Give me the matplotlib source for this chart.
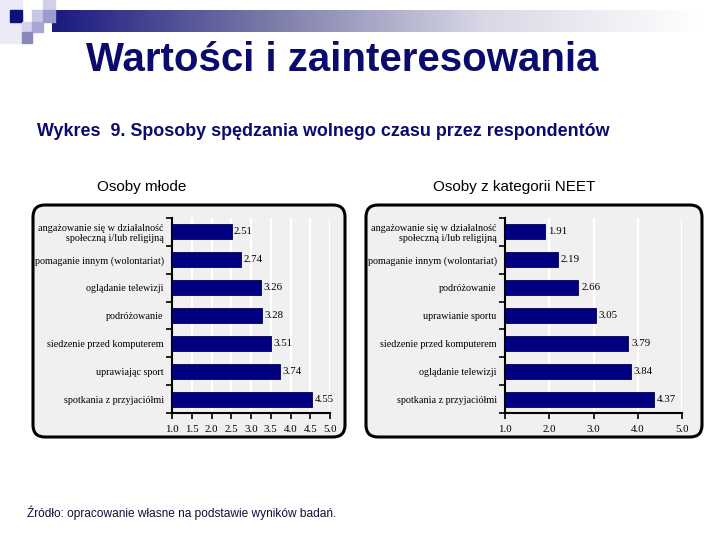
import matplotlib
matplotlib.use("Agg")
import matplotlib.pyplot as plt
from matplotlib.patches import FancyBboxPatch, Rectangle
from matplotlib.colors import LinearSegmentedColormap
import numpy as np

W, H = 720, 540

# ---- data ----
young_labels = ["angażowanie się w działalność\nspołeczną i/lub religijną",
                "pomaganie innym (wolontariat)",
                "oglądanie telewizji",
                "podróżowanie",
                "siedzenie przed komputerem",
                "uprawiając sport",
                "spotkania z przyjaciółmi"]
young_values = [2.51, 2.74, 3.26, 3.28, 3.51, 3.74, 4.55]
young_ticks = [1.0, 1.5, 2.0, 2.5, 3.0, 3.5, 4.0, 4.5, 5.0]

neet_labels = ["angażowanie się w działalność\nspołeczną i/lub religijną",
               "pomaganie innym (wolontariat)",
               "podróżowanie",
               "uprawianie sportu",
               "siedzenie przed komputerem",
               "oglądanie telewizji",
               "spotkania z przyjaciółmi"]
neet_values = [1.91, 2.19, 2.66, 3.05, 3.79, 3.84, 4.37]
neet_ticks = [1.0, 2.0, 3.0, 4.0, 5.0]

NAVY = "#0b0b6e"
BAR = "#000080"
PANEL = "#f0f0f0"
SERIF = ["Liberation Serif", "DejaVu Serif"]
SANS = ["Liberation Sans", "DejaVu Sans"]

fig = plt.figure(figsize=(W / 100, H / 100), dpi=100)


def fx(x):
    return x / W


def fy(y):
    return 1 - y / H


# ---- header decoration ----
deco = fig.add_axes([0, 0, 1, 1], zorder=-5)
deco.set_xlim(0, W)
deco.set_ylim(H, 0)
deco.axis("off")
grad = np.linspace(0, 1, 256)[None, :]
cm = LinearSegmentedColormap.from_list("g", ["#1a1a80", "#7a7aa8", "#d8d8e6", "#ffffff"])
deco.imshow(grad, extent=(52, 700, 32, 10), aspect="auto", cmap=cm, zorder=1)
rects = [
    (0, 0, 22, 43, "#ebebf5"),
    (10, 10, 12, 12, "#10107a"),
    (43, 0, 12, 10, "#d0d0e8"),
    (32, 10, 11, 12, "#c8c8e6"),
    (43, 10, 12, 12, "#9c9ccc"),
    (22, 22, 10, 10, "#d4d4ec"),
    (32, 22, 11, 10, "#a8a8d4"),
    (22, 32, 10, 11, "#8888bb"),
]
for x, y, w, h, c in rects:
    deco.add_patch(Rectangle((x, y), w, h, color=c, zorder=2))

# ---- frames ----
for (x0, x1) in [(33, 345), (366, 702)]:
    deco.add_patch(FancyBboxPatch((x0, 205), x1 - x0, 437 - 205,
                                  boxstyle="round,pad=0,rounding_size=12",
                                  facecolor=PANEL, edgecolor="black",
                                  linewidth=2.2, zorder=3))

# ---- texts ----
fig.text(fx(342), fy(60), "Wartości i zainteresowania", ha="center", va="center",
         fontsize=29, fontweight="bold", color=NAVY, family=SANS)
fig.text(fx(37), fy(132), "Wykres  9. Sposoby spędzania wolnego czasu przez respondentów",
         ha="left", va="center", fontsize=12.9, fontweight="bold", color=NAVY, family=SANS)
fig.text(fx(142), fy(187), "Osoby młode", ha="center", va="center",
         fontsize=11, color="black", family=SANS)
fig.text(fx(514), fy(187), "Osoby z kategorii NEET", ha="center", va="center",
         fontsize=11, color="black", family=SANS)
fig.text(fx(27), fy(513), "Źródło: opracowanie własne na podstawie wyników badań.",
         ha="left", va="center", fontsize=8.6, color="#10103a", family=SANS)


def panel(x0, x1, labels, values, ticks, fmt):
    ax = fig.add_axes([fx(x0), fy(413), fx(x1 - x0), (413 - 218) / H], zorder=2)
    ax.set_facecolor(PANEL)
    n = len(values)
    ypos = np.arange(n)
    ax.barh(ypos, [v - 1 for v in values], left=1, height=0.54, color=BAR,
            edgecolor="#000050", linewidth=0.6, zorder=3)
    ax.set_xlim(ticks[0], ticks[-1])
    ax.set_ylim(n - 0.5, -0.5)
    ax.set_xticks(ticks)
    ax.set_xticklabels([fmt.format(t) for t in ticks], family=SERIF, fontsize=7.8)
    ax.set_yticks(ypos)
    ax.set_yticklabels(labels, family=SERIF, fontsize=7.3, linespacing=1.1)
    ax.tick_params(axis="y", length=0, pad=6)
    ax.set_yticks(np.arange(n + 1) - 0.5, minor=True)
    ax.tick_params(axis="y", which="minor", length=4, width=1.2, direction="out")
    ax.tick_params(axis="x", length=4, width=1.2, direction="out", pad=5)
    for t in ticks[1:]:
        ax.axvline(t, color="white", linewidth=1.6, zorder=1)
    for s in ["top", "right"]:
        ax.spines[s].set_visible(False)
    for s in ["left", "bottom"]:
        ax.spines[s].set_linewidth(1.5)
    for y, v in zip(ypos, values):
        ax.text(v + (ticks[-1] - ticks[0]) * 0.015, y, f"{v:.2f}", va="center", ha="left",
                fontsize=7.8, family=SERIF, zorder=4)
    return ax


panel(172, 330, young_labels, young_values, young_ticks, "{:.1f}")
panel(505, 682, neet_labels, neet_values, neet_ticks, "{:.1f}")

fig.savefig("out.png", dpi=100)
